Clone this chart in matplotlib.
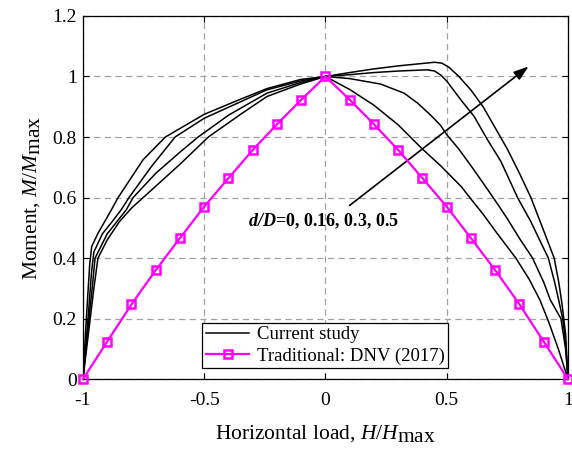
import matplotlib
matplotlib.use("Agg")
from matplotlib import pyplot as plt
import matplotlib._mathtext as mt

# MATLAB-style full size subscripts
mt.SHRINK_FACTOR = 1.0

plt.rcParams['font.family'] = 'Liberation Serif'
plt.rcParams['mathtext.fontset'] = 'custom'
plt.rcParams['mathtext.rm'] = 'Liberation Serif'
plt.rcParams['mathtext.it'] = 'Liberation Serif:italic'
plt.rcParams['mathtext.bf'] = 'Liberation Serif:bold'
plt.rcParams['mathtext.bfit'] = 'Liberation Serif:italic:bold'
plt.rcParams['axes.unicode_minus'] = False

# current study, four d/D cases
h_1 = [-1, -0.986, -0.972, -0.964, -0.938, -0.883, -0.855, -0.752, -0.66, -0.5, -0.35, -0.241, -0.103, 0,
       0.1, 0.2, 0.3, 0.4, 0.45, 0.48, 0.51, 0.55, 0.6, 0.65, 0.7, 0.75, 0.8, 0.847, 0.9, 0.943, 0.962, 0.975, 0.99, 1]
m_1 = [0, 0.2, 0.38, 0.438, 0.482, 0.559, 0.6, 0.725, 0.8, 0.875, 0.925, 0.96, 0.99, 1,
       1.013, 1.025, 1.035, 1.043, 1.047, 1.044, 1.03, 1.0, 0.955, 0.9, 0.83, 0.76, 0.68, 0.6, 0.49, 0.4, 0.32, 0.25, 0.15, 0]

h_2 = [-1, -0.979, -0.965, -0.955, -0.92, -0.88, -0.842, -0.81, -0.72, -0.62, -0.5, -0.241, -0.103, 0,
       0.1, 0.2, 0.3, 0.42, 0.45, 0.475, 0.5, 0.558, 0.613, 0.668, 0.723, 0.792, 0.847, 0.919, 0.945, 0.962, 0.978, 0.99, 1]
m_2 = [0, 0.2, 0.35, 0.42, 0.48, 0.52, 0.56, 0.6, 0.7, 0.8, 0.862, 0.956, 0.985, 1,
       1.006, 1.013, 1.018, 1.022, 1.018, 1.005, 0.985, 0.923, 0.868, 0.791, 0.72, 0.6, 0.52, 0.4, 0.32, 0.26, 0.2, 0.12, 0]

h_3 = [-1, -0.975, -0.962, -0.95, -0.9, -0.821, -0.793, -0.7, -0.6, -0.525, -0.4, -0.241, -0.103, 0,
       0.1, 0.227, 0.324, 0.38, 0.434, 0.475, 0.5, 0.55, 0.6, 0.65, 0.7, 0.75, 0.8, 0.854, 0.9, 0.927, 0.971, 0.99, 1]
m_3 = [0, 0.2, 0.3, 0.4, 0.48, 0.56, 0.6, 0.68, 0.75, 0.8, 0.872, 0.945, 0.98, 1,
       0.993, 0.975, 0.945, 0.912, 0.872, 0.838, 0.808, 0.76, 0.705, 0.648, 0.59, 0.53, 0.465, 0.4, 0.32, 0.262, 0.2, 0.1, 0]

h_4 = [-1, -0.97, -0.955, -0.938, -0.9, -0.85, -0.8, -0.731, -0.6, -0.483, -0.35, -0.241, -0.103, 0,
       0.1, 0.2, 0.3, 0.4, 0.475, 0.56, 0.6, 0.65, 0.7, 0.785, 0.84, 0.884, 0.92, 0.96, 1]
m_4 = [0, 0.2, 0.3, 0.4, 0.46, 0.52, 0.565, 0.615, 0.71, 0.8, 0.875, 0.934, 0.975, 1,
       0.957, 0.905, 0.84, 0.76, 0.705, 0.636, 0.595, 0.545, 0.49, 0.4, 0.33, 0.262, 0.19, 0.1, 0]

# DNV (2017)
h_dnv = [-1, -0.9, -0.8, -0.7, -0.6, -0.5, -0.4, -0.3, -0.2, -0.1, 0,
         0.1, 0.2, 0.3, 0.4, 0.5, 0.6, 0.7, 0.8, 0.9, 1]
m_dnv = [0.0, 0.124, 0.247, 0.36, 0.466, 0.57, 0.664, 0.757, 0.842, 0.923, 1.0,
         0.923, 0.842, 0.757, 0.664, 0.57, 0.466, 0.36, 0.247, 0.124, 0.0]

xticks = [-1, -0.5, 0, 0.5, 1]
xlabels = ['-1', '-0.5', '0', '0.5', '1']
yticks = [0, 0.2, 0.4, 0.6, 0.8, 1, 1.2]
ylabels = ['0', '0.2', '0.4', '0.6', '0.8', '1', '1.2']

fig = plt.figure(figsize=(5.72, 4.49), dpi=100)
ax = fig.add_axes([0.145, 0.1555, 0.848, 0.809])

curves = [(h_1, m_1), (h_2, m_2), (h_3, m_3), (h_4, m_4)]
for i, (h, m) in enumerate(curves):
    ax.plot(h, m, color='k', lw=1.1, label='Current study' if i == 0 else None, zorder=3)

ax.plot(h_dnv, m_dnv, color='#ff00ff', lw=1.6, marker='s', ms=5.5, mfc='none',
        mec='#ff00ff', mew=1.8, label='Traditional: DNV (2017)', zorder=4, clip_on=False)

ax.set_xlim(-1, 1)
ax.set_ylim(0, 1.2)
ax.set_xticks(xticks)
ax.set_xticklabels(xlabels)
ax.set_yticks(yticks)
ax.set_yticklabels(ylabels)
ax.tick_params(direction='in', top=True, right=True, labelsize=14, length=4, width=0.8)
ax.tick_params(axis='x', pad=9)
ax.tick_params(axis='y', pad=4.5)
ax.grid(True, color='#a0a0a0', linestyle=(0, (5, 3.5)), lw=0.9)
ax.set_axisbelow(True)
for s in ax.spines.values():
    s.set_linewidth(0.9)

ax.set_xlabel(r'Horizontal load, $H/H_{\rm max}$', fontsize=15.5)
ax.set_ylabel(r'Moment, $M/M_{\rm max}$', fontsize=15.5)
ax.xaxis.set_label_coords(0.5, -0.12)
ax.yaxis.set_label_coords(-0.085, 0.5)

ax.annotate('', xy=(0.847, 1.039), xytext=(0.09, 0.568),
            arrowprops=dict(arrowstyle='-|>,head_length=0.9,head_width=0.3', color='k', lw=1.2))
ax.text(-0.32, 0.523, r'$\mathbfit{d/D}$=0, 0.16, 0.3, 0.5', fontsize=13, fontweight='bold',
        ha='left', va='center')

leg = ax.legend(loc='lower center', bbox_to_anchor=(0.5, 0.03), fontsize=13.5, frameon=True,
                fancybox=False, edgecolor='k', framealpha=1, handlelength=2.3,
                borderpad=0.2, labelspacing=0.2, handletextpad=0.4, borderaxespad=0)
leg.get_frame().set_linewidth(0.9)

fig.savefig('out.png', dpi=100)
